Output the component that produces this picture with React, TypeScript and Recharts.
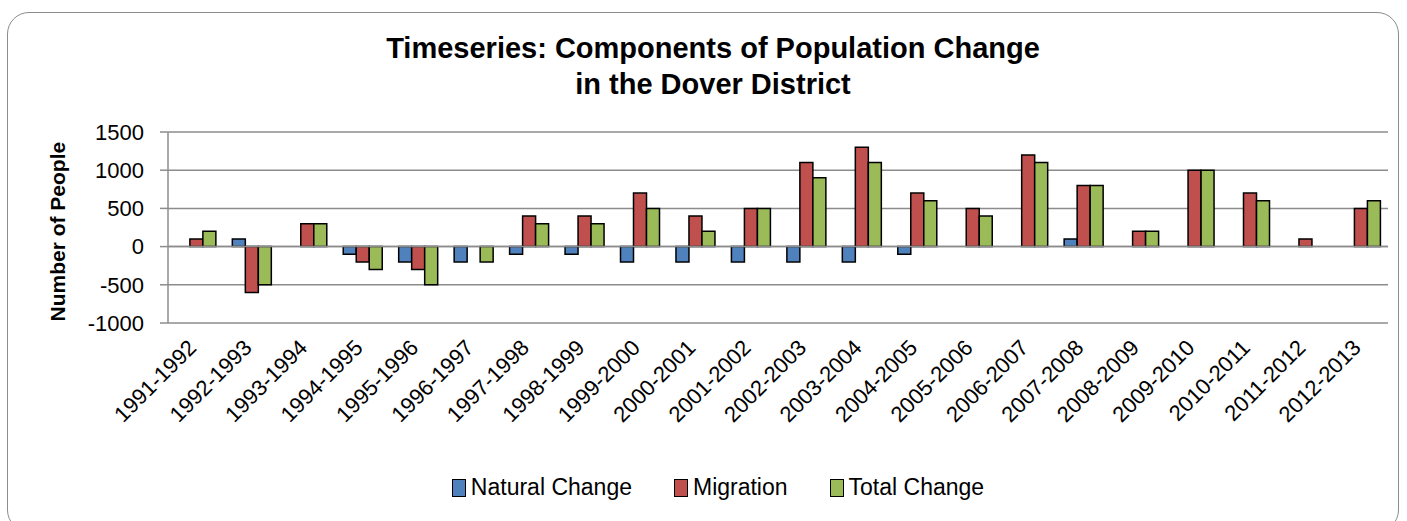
import { Bar, BarChart, CartesianGrid, Legend, ReferenceLine, XAxis, YAxis } from 'recharts'

const periods = [
  '1991-1992', '1992-1993', '1993-1994', '1994-1995', '1995-1996', '1996-1997',
  '1997-1998', '1998-1999', '1999-2000', '2000-2001', '2001-2002', '2002-2003',
  '2003-2004', '2004-2005', '2005-2006', '2006-2007', '2007-2008', '2008-2009',
  '2009-2010', '2010-2011', '2011-2012', '2012-2013',
]
const naturalChange = [0, 100, 0, -100, -200, -200, -100, -100, -200, -200, -200, -200, -200, -100, 0, 0, 100, 0, 0, 0, 0, 0]
const migration = [100, -600, 300, -200, -300, 0, 400, 400, 700, 400, 500, 1100, 1300, 700, 500, 1200, 800, 200, 1000, 700, 100, 500]
const totalChange = [200, -500, 300, -300, -500, -200, 300, 300, 500, 200, 500, 900, 1100, 600, 400, 1100, 800, 200, 1000, 600, 0, 600]
const yTicks = [-1000, -500, 0, 500, 1000, 1500]

const SERIES = [
  { key: 'natural', name: 'Natural Change', color: '#4F81BD' },
  { key: 'migration', name: 'Migration', color: '#C0504D' },
  { key: 'total', name: 'Total Change', color: '#9BBB59' },
]

const FONT = '"Liberation Sans", Arial, sans-serif'

const data = periods.map((p, i) => ({
  period: p,
  natural: naturalChange[i],
  migration: migration[i],
  total: totalChange[i],
}))

function PeriodTick(props: any) {
  const { x, y, payload } = props
  const ax = x + 2
  const ay = y + 18
  return (
    <text
      x={ax}
      y={ay}
      textAnchor="end"
      transform={`rotate(-45, ${ax}, ${ay})`}
      fill="#000"
      fontSize={22}
      fontFamily={FONT}
    >
      {payload.value}
    </text>
  )
}

function LegendContent() {
  return (
    <div style={{ display: 'flex', justifyContent: 'center', gap: 42, fontFamily: FONT, fontSize: 23, paddingLeft: 28 }}>
      {SERIES.map((s) => (
        <div key={s.key} style={{ display: 'flex', alignItems: 'center' }}>
          <span
            style={{
              display: 'inline-block',
              width: 12,
              height: 16,
              background: s.color,
              border: '1.5px solid #000',
              marginRight: 5,
            }}
          />
          {s.name}
        </div>
      ))}
    </div>
  )
}

export default function App() {
  return (
    <div style={{ position: 'absolute', left: 0, top: 0, width: 1407, height: 521, background: '#fff' }}>
      <div
        style={{
          position: 'absolute',
          left: 7,
          top: 12,
          width: 1392,
          height: 520,
          border: '1.5px solid #8c8c8c',
          borderRadius: 22,
          boxSizing: 'border-box',
        }}
      />
      <div
        style={{
          position: 'absolute',
          left: 0,
          top: 30,
          width: 1426,
          textAlign: 'center',
          fontFamily: FONT,
          fontWeight: 'bold',
          fontSize: 29,
          lineHeight: '36px',
        }}
      >
        Timeseries: Components of Population Change
        <br />
        in the Dover District
      </div>
      <BarChart
        width={1407}
        height={521}
        data={data}
        margin={{ top: 132, right: 19, bottom: 30, left: 20 }}
        barCategoryGap="16%"
        barGap={0}
        style={{ position: 'absolute', left: 0, top: 0 }}
      >
        <CartesianGrid vertical={false} stroke="#8c8c8c" strokeWidth={1.5} />
        <XAxis
          dataKey="period"
          axisLine={false}
          tickLine={false}
          tick={<PeriodTick />}
          interval={0}
          height={141}
        />
        <YAxis
          domain={[-1000, 1500]}
          ticks={yTicks}
          interval={0}
          width={148}
          axisLine={{ stroke: '#8c8c8c', strokeWidth: 1.5 }}
          tickLine={{ stroke: '#8c8c8c', strokeWidth: 1.5 }}
          tickSize={8}
          tick={{ fill: '#000', fontSize: 22, fontFamily: FONT }}
          tickMargin={16}
          label={{
            value: 'Number of People',
            angle: -90,
            position: 'insideLeft',
            offset: 38,
            dy: 94,
            style: { fontFamily: FONT, fontWeight: 'bold', fontSize: 21, fill: '#000' },
          }}
        />
        <ReferenceLine y={0} stroke="#8c8c8c" strokeWidth={1.5} />
        <Legend verticalAlign="bottom" content={<LegendContent />} wrapperStyle={{ bottom: 20 }} />
        {SERIES.map((s) => (
          <Bar
            key={s.key}
            dataKey={s.key}
            name={s.name}
            fill={s.color}
            stroke="#000"
            strokeWidth={1.5}
            isAnimationActive={false}
          />
        ))}
      </BarChart>
    </div>
  )
}
